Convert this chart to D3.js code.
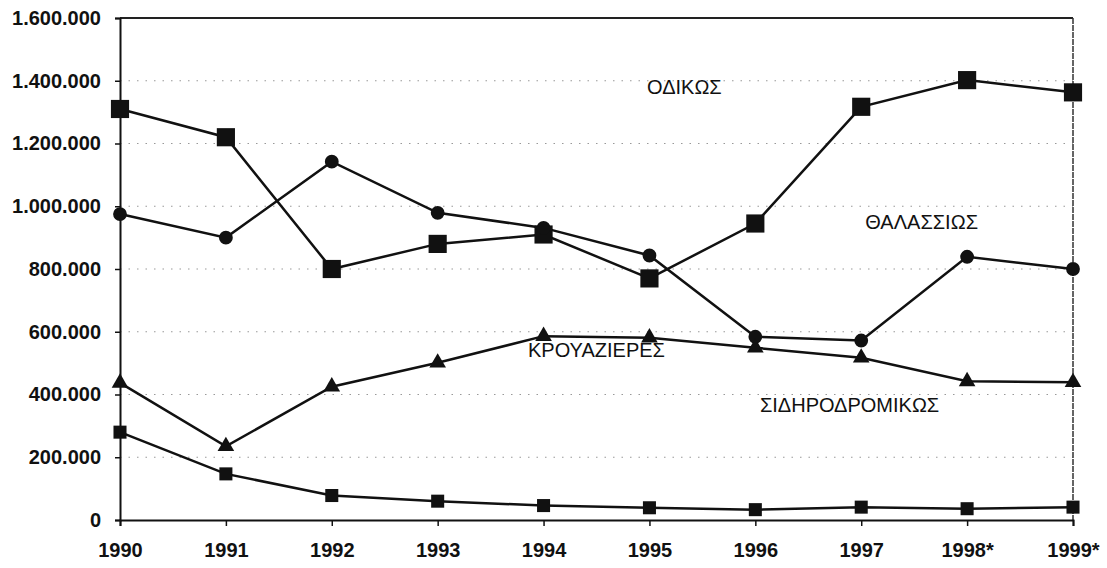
<!DOCTYPE html>
<html>
<head>
<meta charset="utf-8">
<script src="https://cdn.jsdelivr.net/npm/d3@7"></script>
<style>
  body { margin: 0; background: #fff; }
  svg { display: block; font-family: "Liberation Sans", Arial, sans-serif; }
</style>
</head>
<body>
<div id="chart"></div>
<script>
// years on the x axis
var years = ["1990", "1991", "1992", "1993", "1994", "1995", "1996", "1997", "1998*", "1999*"];

// series values
var road = [1310000, 1220000, 800000, 880000, 910000, 770000, 945000, 1317000, 1402000, 1363000];
var sea = [975000, 900000, 1142000, 979000, 931000, 843000, 584000, 572000, 839000, 800000];
var cruises = [437000, 235000, 425000, 501000, 586000, 581000, 549000, 517000, 442000, 439000];
var rail = [280000, 147000, 78000, 60000, 46000, 39000, 33000, 41000, 36000, 41000];

var yTicks = [0, 200000, 400000, 600000, 800000, 1000000, 1200000, 1400000, 1600000];

// in-chart labels: text, fractional year index, value
var labelText = ["ΟΔΙΚΩΣ", "ΘΑΛΑΣΣΙΩΣ", "ΚΡΟΥΑΖΙΕΡΕΣ", "ΣΙΔΗΡΟΔΡΟΜΙΚΩΣ"];
var labelIdx = [5.33, 7.57, 4.5, 6.89];
var labelVal = [1381000, 951000, 543000, 368000];

var svgWidth = 1107, svgHeight = 568;
var margin = { top: 18, right: 34, bottom: 48, left: 120 };
var chartWidth = 1073 - margin.left;
var chartHeight = 520 - margin.top;

var svg = d3.select("#chart")
  .append("svg")
  .attr("width", svgWidth)
  .attr("height", svgHeight);

var chartGroup = svg.append("g")
  .attr("transform", `translate(${margin.left}, ${margin.top})`);

var x = d3.scalePoint()
  .domain(years)
  .range([0, chartWidth])
  .padding(0);

var y = d3.scaleLinear()
  .domain([0, 1600000])
  .range([chartHeight, 0]);

var locale = d3.formatLocale({ decimal: ",", thousands: ".", grouping: [3], currency: ["", "€"] });
var fmt = locale.format(",d");

// dotted gridlines
chartGroup.append("g")
  .selectAll("line")
  .data(yTicks.slice(1, -1))
  .enter()
  .append("line")
  .attr("x1", 0)
  .attr("x2", chartWidth)
  .attr("y1", d => y(d))
  .attr("y2", d => y(d))
  .attr("stroke", "#999")
  .attr("stroke-width", 1.2)
  .attr("stroke-dasharray", "1.5,7");

// frame top and right
chartGroup.append("line")
  .attr("x1", 0).attr("x2", chartWidth)
  .attr("y1", 0).attr("y2", 0)
  .attr("stroke", "#222").attr("stroke-width", 2);
chartGroup.append("line")
  .attr("x1", chartWidth).attr("x2", chartWidth)
  .attr("y1", 0).attr("y2", chartHeight)
  .attr("stroke", "#333").attr("stroke-width", 1.5)
  .attr("stroke-dasharray", "6,1");

// axes
var xAxis = d3.axisBottom(x).tickSize(6).tickPadding(17);
var yAxis = d3.axisLeft(y).tickValues(yTicks).tickFormat(fmt).tickSize(5).tickPadding(14);

var gx = chartGroup.append("g")
  .attr("transform", `translate(0, ${chartHeight})`)
  .call(xAxis);
var gy = chartGroup.append("g").call(yAxis);

[gx, gy].forEach(function(g) {
  g.select(".domain").attr("stroke", "#111").attr("stroke-width", 2);
  g.selectAll(".tick line").attr("stroke", "#111").attr("stroke-width", 1.5);
  g.selectAll(".tick text")
    .attr("fill", "#111")
    .style("font-family", "'Liberation Sans', Arial, sans-serif")
    .style("font-size", "20px")
    .style("font-weight", "bold");
});

var line = d3.line()
  .x((d, i) => x(years[i]))
  .y(d => y(d));

var series = [road, sea, cruises, rail];
series.forEach(function(s) {
  chartGroup.append("path")
    .datum(s)
    .attr("fill", "none")
    .attr("stroke", "#111")
    .attr("stroke-width", 2.5)
    .attr("d", line);
});

// markers
var marks = [
  { data: road, shape: d3.symbolSquare, size: 330 },
  { data: sea, shape: d3.symbolCircle, size: 150 },
  { data: cruises, shape: d3.symbolTriangle, size: 120 },
  { data: rail, shape: d3.symbolSquare, size: 170 }
];
marks.forEach(function(m) {
  chartGroup.append("g")
    .selectAll("path")
    .data(m.data)
    .enter()
    .append("path")
    .attr("transform", (d, i) => `translate(${x(years[i])}, ${y(d)})`)
    .attr("d", d3.symbol().type(m.shape).size(m.size))
    .attr("fill", "#111");
});

// series labels
chartGroup.append("g")
  .selectAll("text")
  .data(labelText)
  .enter()
  .append("text")
  .attr("x", (d, i) => labelIdx[i] * x.step())
  .attr("y", (d, i) => y(labelVal[i]))
  .attr("text-anchor", "middle")
  .attr("dominant-baseline", "central")
  .attr("fill", "#111")
  .style("font-size", "20px")
  .text(d => d);
</script>
</body>
</html>
